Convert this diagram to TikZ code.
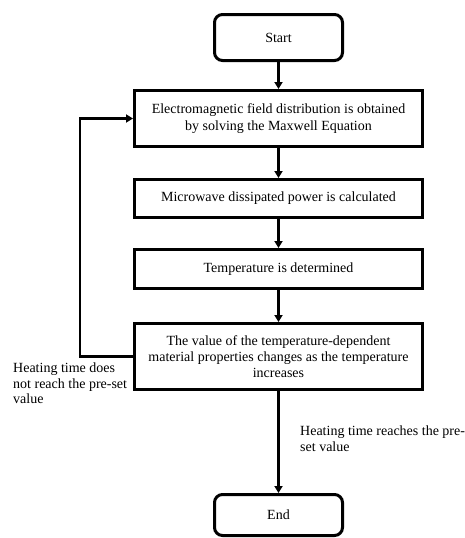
\documentclass[tikz,border=0pt]{standalone}
\usepackage{fontspec}
\setmainfont{Liberation Serif}
\usetikzlibrary{
    positioning,
    arrows.meta
}

\begin{document}
\begin{tikzpicture}[
    terminal/.style={rectangle, draw, line width=3pt, rounded corners=8pt, minimum width=128pt, minimum height=46pt, align=center, font=\fontsize{14}{16.3}\selectfont},
    process/.style={rectangle, draw, line width=3pt, minimum width=288pt, inner sep=0pt, align=center, font=\fontsize{14}{16.3}\selectfont},
    note/.style={inner sep=0pt, align=left, font=\fontsize{14}{15.5}\selectfont},
    arrow/.style={line width=2.2pt, -{Triangle[length=7pt, width=8pt]}}
]
\useasboundingbox (0,0) rectangle (465pt,-538pt);
\node[terminal] (start) at (278.5pt,-37.5pt) {Start};
\node[process, minimum height=56pt, below=27pt of start] (field) {Electromagnetic field distribution is obtained \\ by solving the Maxwell Equation};
\node[process, minimum height=38pt, below=30pt of field] (power) {Microwave dissipated power is calculated};
\node[process, minimum height=39pt, below=29pt of power] (temp) {Temperature is determined};
\node[process, minimum height=66pt, below=32pt of temp] (props) {The value of the temperature-dependent \\ material properties changes as the temperature \\ increases};
\node[terminal, minimum height=41pt, below=102pt of props] (end) {End};
\coordinate[left=53pt of props.west] (loop);

\draw[arrow] (start) -- (field);
\draw[arrow] (field) -- (power);
\draw[arrow] (power) -- (temp);
\draw[arrow] (temp) -- (props);
\draw[arrow] (props) -- (end);
\draw[arrow] (props.west) -- (loop) |- (field.west);

\node[note, anchor=north west] (notyet) at (13pt,-363pt) {Heating time does\\not reach the pre-set\\value};
\node[note, anchor=north west] (reached) at (300pt,-426pt) {Heating time reaches the pre-\\set value};
\end{tikzpicture}
\end{document}
